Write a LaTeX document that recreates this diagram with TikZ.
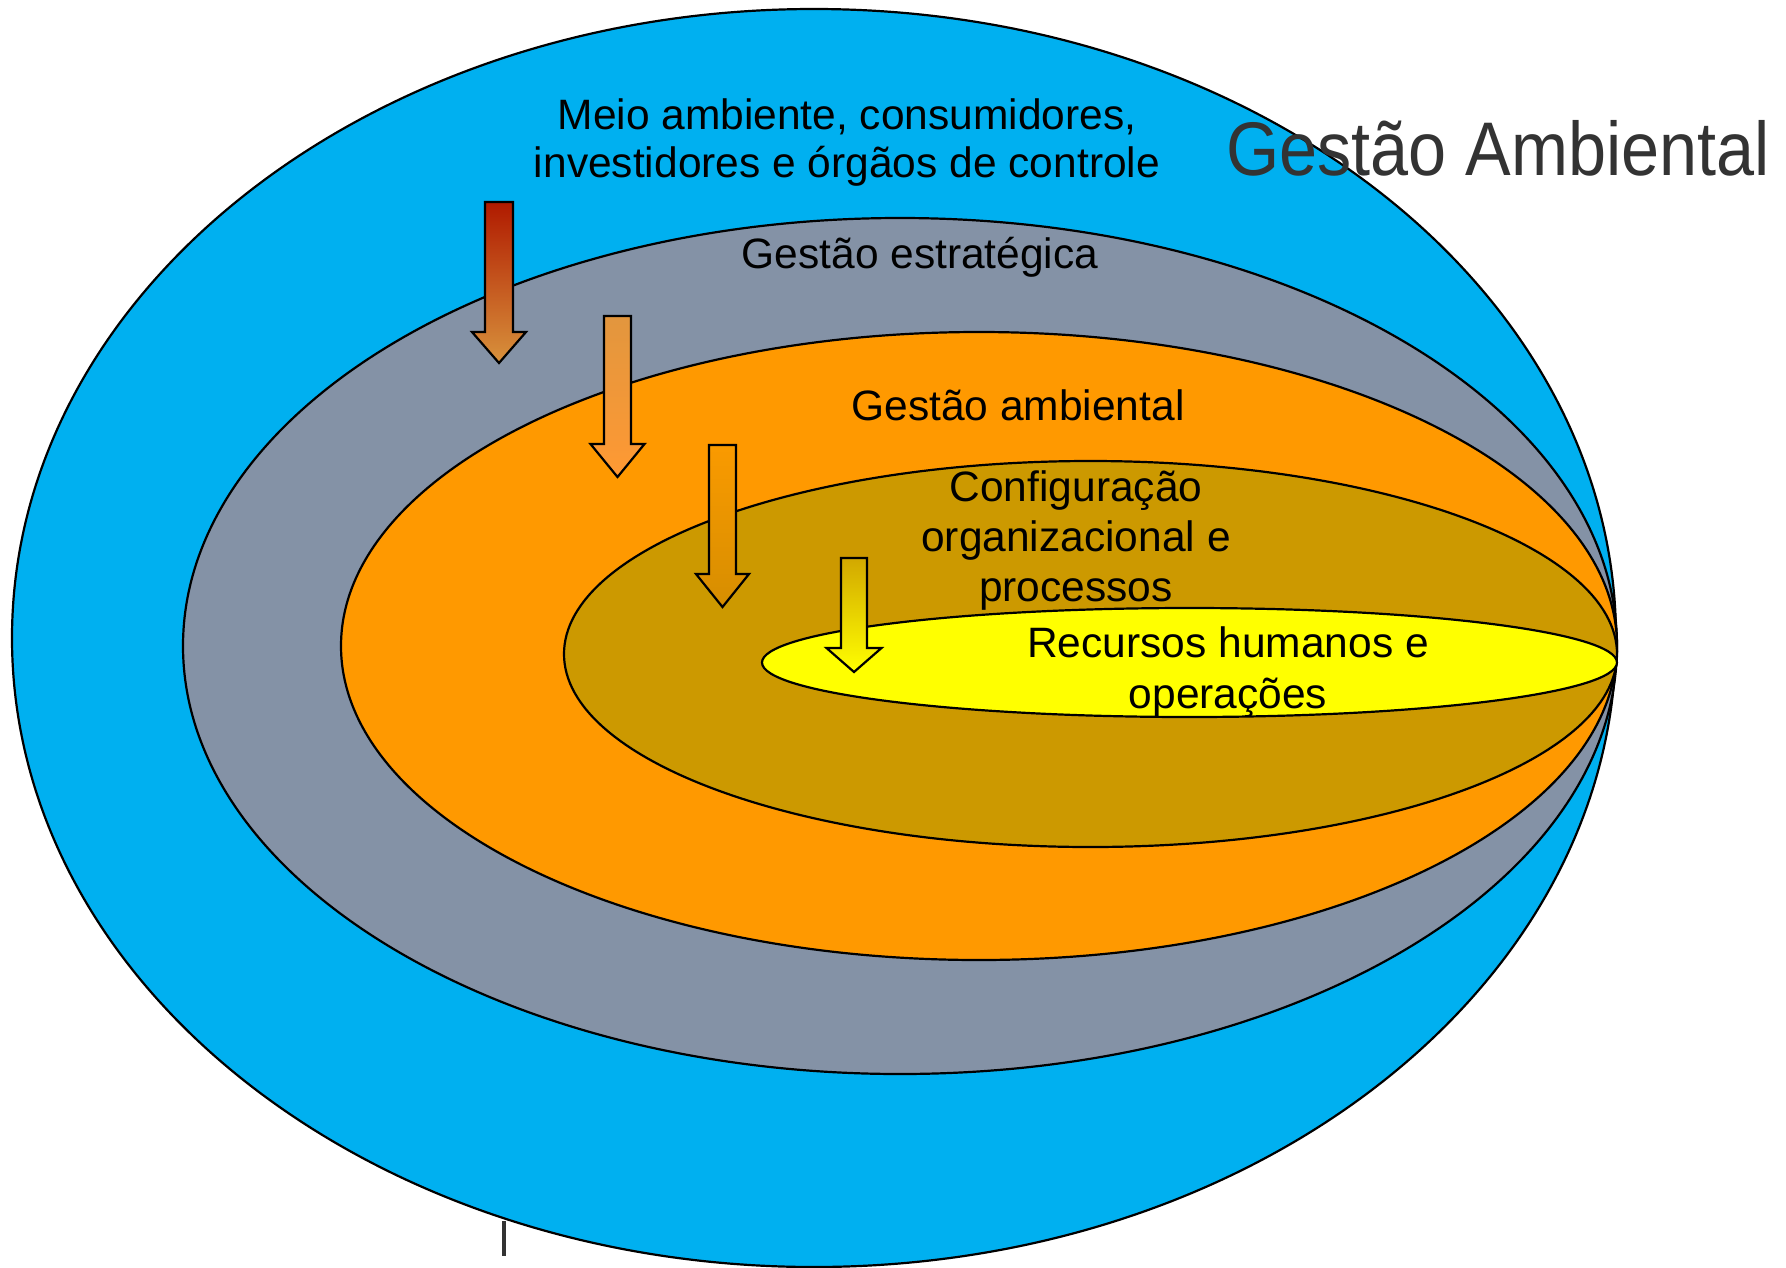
\documentclass[tikz,border=0pt]{standalone}
\usepackage{fontspec}
\setmainfont{Liberation Sans}
\usetikzlibrary{shapes.geometric}
\definecolor{cblue}{HTML}{00B0F0}
\definecolor{cgray}{HTML}{8492A6}
\definecolor{corange}{HTML}{FF9900}
\definecolor{colive}{HTML}{CC9900}
\definecolor{cyellow}{HTML}{FFFF00}
\definecolor{ctitle}{HTML}{333333}
\definecolor{aonetop}{HTML}{B01A00}
\definecolor{aonebot}{HTML}{D8923C}
\definecolor{atwotop}{HTML}{E2963E}
\definecolor{atwobot}{HTML}{FF9933}
\definecolor{athreetop}{HTML}{FA9A00}
\definecolor{athreebot}{HTML}{D68E00}
\definecolor{afourtop}{HTML}{D2A800}
\definecolor{afourbot}{HTML}{FFFF00}
\tikzset{
  ring/.style={ellipse, draw=black, line width=2.2pt, inner sep=0pt},
  lbl/.style={anchor=base, inner sep=0pt, font=\fontsize{42.5}{50}\selectfont, text=black},
  downarrow/.style={draw=black, line width=2.2pt, line join=miter},
}
\newcommand{\downarr}[7]{% cx, top, headbase, tip, shafthalf, headhalf, colors
  \shadedraw[downarrow,#7] (#1-#5,#2) -- (#1+#5,#2) -- (#1+#5,#3) -- (#1+#6,#3) -- (#1,#4) -- (#1-#6,#3) -- (#1-#5,#3) -- cycle;
}
\begin{document}
\begin{tikzpicture}[x=1pt,y=-1pt]
\useasboundingbox (0,0) rectangle (1786,1267);
\node[ring, fill=cblue, minimum width=1604pt, minimum height=1258pt] (blue) at (814,638) {};
\node[ring, fill=cgray, minimum width=1434pt, minimum height=856pt] (gray) at (900,646) {};
\node[ring, fill=corange, minimum width=1276pt, minimum height=628pt] (orange) at (979,646) {};
\node[ring, fill=colive, minimum width=1053pt, minimum height=386pt] (olive) at (1090.5,654) {};
\node[ring, fill=cyellow, minimum width=855pt, minimum height=109pt] (yellow) at (1189.5,662.5) {};

\downarr{499}{202}{332}{363}{14}{27}{top color=aonetop, bottom color=aonebot}
\downarr{617.5}{316}{444}{477}{13.5}{27}{top color=atwotop, bottom color=atwobot}
\downarr{722.5}{445}{574}{607}{13.5}{26.5}{top color=athreetop, bottom color=athreebot}
\downarr{854}{558}{648}{672}{13}{27.5}{top color=afourtop, bottom color=afourbot}

\node[lbl] (meio1) at (847,129) {Meio ambiente, consumidores,};
\node[lbl] (meio2) at (847,177) {investidores e órgãos de controle};
\node[lbl] (estr) at (920,268) {Gestão estratégica};
\node[lbl] (amb) at (1018,420) {Gestão ambiental};
\node[lbl] (conf1) at (1076,501) {Configuração};
\node[lbl] (conf2) at (1076,551) {organizacional e};
\node[lbl] (conf3) at (1076,601) {processos};
\node[lbl] (rh1) at (1228,657) {Recursos humanos e};
\node[lbl] (rh2) at (1228,708) {operações};
\node[anchor=base west, inner sep=0pt, text=ctitle] (title) at (1226,175) {\scalebox{0.9}[1]{\fontsize{76}{76}\selectfont Gestão Ambiental}};
\coordinate (cur1) at (504,1221);
\coordinate (cur2) at (504,1256);
\draw[ctitle, line width=3.5pt] (cur1) -- (cur2);
\end{tikzpicture}
\end{document}
